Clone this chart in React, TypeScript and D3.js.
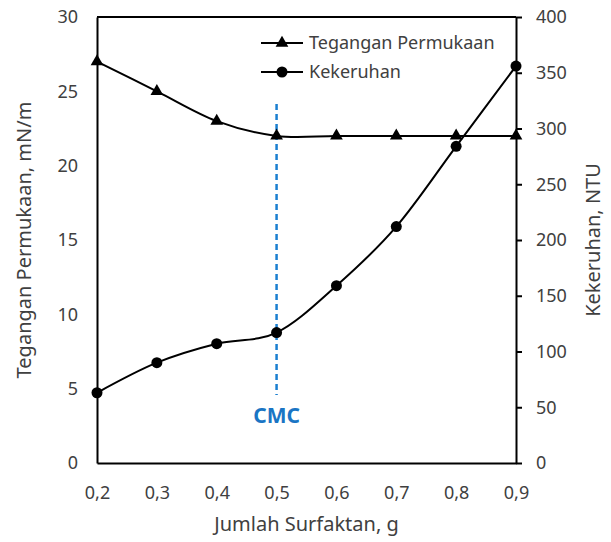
import * as d3 from 'd3'
import { axisBottom, axisLeft, axisRight, select } from 'd3'
import { useEffect, useRef } from 'react'

const surfaktan = [0.2, 0.3, 0.4, 0.5, 0.6, 0.7, 0.8, 0.9]
const tegangan = [27, 25, 23, 22, 22, 22, 22, 22]
const kekeruhan = [63, 90, 107, 117, 159, 212, 284, 356]
const leftTicks = [0, 5, 10, 15, 20, 25, 30]
const rightTicks = [0, 50, 100, 150, 200, 250, 300, 350, 400]
const cmcAt = 0.5

const FONT = '"Noto Sans", "Open Sans", sans-serif'
const TEXT = '#404040'

const W = 611
const H = 542
const MARGIN = { top: 17, right: 95, bottom: 79, left: 97 }

const x = d3.scaleLinear().domain([0.2, 0.9]).range([MARGIN.left, W - MARGIN.right])
const yL = d3.scaleLinear().domain([0, 30]).range([H - MARGIN.bottom, MARGIN.top])
const yR = d3.scaleLinear().domain([0, 400]).range([H - MARGIN.bottom, MARGIN.top])

const comma = (d: number) => d.toFixed(1).replace('.', ',')

const styleAxis = (g: d3.Selection<SVGGElement, unknown, null, undefined>) => {
  g.selectAll('path.domain').attr('stroke', '#000').attr('stroke-width', 2)
  g.selectAll('.tick line').attr('stroke', '#000').attr('stroke-width', 2)
  g.selectAll('.tick text').attr('fill', TEXT).style('font-family', FONT).style('font-size', '18px')
}

const Axes = () => {
  const bottom = useRef<SVGGElement>(null)
  const left = useRef<SVGGElement>(null)
  const right = useRef<SVGGElement>(null)

  useEffect(() => {
    if (bottom.current) {
      const g = select(bottom.current)
      g.call(axisBottom(x).tickValues(surfaktan).tickFormat((d) => comma(+d)).tickSize(0).tickPadding(23).tickSizeOuter(0))
      styleAxis(g)
    }
    if (left.current) {
      const g = select(left.current)
      g.call(axisLeft(yL).tickValues(leftTicks).tickSize(0).tickPadding(19).tickSizeOuter(0))
      styleAxis(g)
    }
    if (right.current) {
      const g = select(right.current)
      g.call(axisRight(yR).tickValues(rightTicks).tickSize(6).tickPadding(14).tickSizeOuter(0))
      styleAxis(g)
    }
  }, [])

  return (
    <>
      <g ref={bottom} transform={`translate(0,${H - MARGIN.bottom})`} />
      <g ref={left} transform={`translate(${MARGIN.left},0)`} />
      <g ref={right} transform={`translate(${W - MARGIN.right},0)`} />
    </>
  )
}

const triangle = d3.symbol().type(d3.symbolTriangle).size(70)()

export default function App() {
  const tegPath = d3
    .line<number>()
    .curve(d3.curveCardinal.tension(0))
    .x((_, i) => x(surfaktan[i]))
    .y((d) => yL(d))(tegangan) as string
  const kekPath = d3
    .line<number>()
    .curve(d3.curveCardinal.tension(0))
    .x((_, i) => x(surfaktan[i]))
    .y((d) => yR(d))(kekeruhan) as string

  const cx = x(cmcAt)

  return (
    <svg width={W} height={H} style={{ position: 'absolute', left: 0, top: 0, background: '#fff' }}>
      <line x1={MARGIN.left} x2={W - MARGIN.right} y1={MARGIN.top} y2={MARGIN.top} stroke="#000" strokeWidth={2} />

      <line x1={cx} x2={cx} y1={104} y2={395} stroke="#1a7fd0" strokeWidth={2.5} strokeDasharray="6,4" />
      <text x={cx} y={423} textAnchor="middle" fill="#1a75c4" fontFamily={FONT} fontWeight="bold" fontSize={21}>
        CMC
      </text>

      <Axes />

      <path d={tegPath} fill="none" stroke="#000" strokeWidth={2} />
      <path d={kekPath} fill="none" stroke="#000" strokeWidth={2} />
      {tegangan.map((d, i) => (
        <path key={'t' + i} d={triangle} transform={`translate(${x(surfaktan[i])},${yL(d)})`} fill="#000" />
      ))}
      {kekeruhan.map((d, i) => (
        <circle key={'k' + i} cx={x(surfaktan[i])} cy={yR(d)} r={5.5} fill="#000" />
      ))}

      {/* legend */}
      <g fontFamily={FONT} fontSize={18} fill={TEXT}>
        <line x1={261} x2={303} y1={43} y2={43} stroke="#000" strokeWidth={2} />
        <path d={triangle} transform="translate(282,43)" fill="#000" />
        <text x={309} y={43} dy="0.35em">Tegangan Permukaan</text>
        <line x1={261} x2={303} y1={72} y2={72} stroke="#000" strokeWidth={2} />
        <circle cx={282} cy={72} r={5.5} fill="#000" />
        <text x={309} y={72} dy="0.35em">Kekeruhan</text>
      </g>

      <g fontFamily={FONT} fontSize={20} fill={TEXT} textAnchor="middle">
        <text x={(x(0.2) + x(0.9)) / 2} y={531}>Jumlah Surfaktan, g</text>
        <text transform={`translate(31,${(yL(0) + yL(30)) / 2}) rotate(-90)`}>Tegangan Permukaan, mN/m</text>
        <text transform={`translate(600,${(yR(0) + yR(400)) / 2}) rotate(-90)`}>Kekeruhan, NTU</text>
      </g>
    </svg>
  )
}
